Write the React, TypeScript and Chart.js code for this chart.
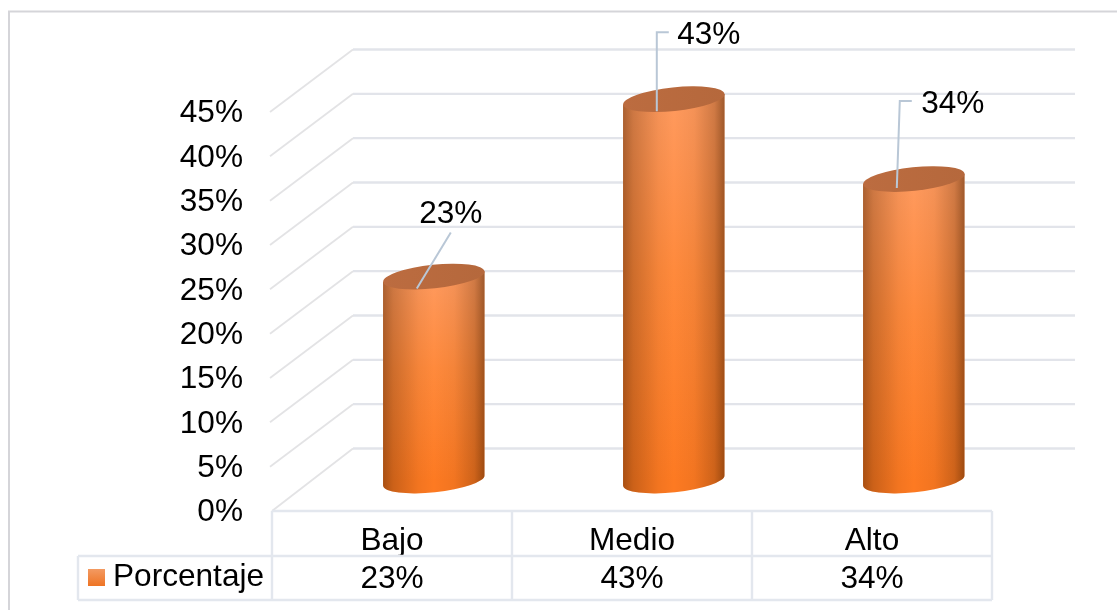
import { useEffect, useRef } from "react";
import { Chart, registerables } from "chart.js";

Chart.register(...registerables);

const categories = ["Bajo", "Medio", "Alto"];
const seriesName = "Porcentaje";
const values = [23, 43, 34];

const FAMILY = '"Liberation Sans", Arial, sans-serif';
const FONT_SIZE = 31.6;
const FONT = `${FONT_SIZE}px ${FAMILY}`;
const WALL = "#E2E4EA";
const DIAGONAL = "#E3E3E5";
const TABLE = "#E3E7EE";
const LEADER = "#B9C7D6";

// Depth of the 3D box, measured from the front plane of the value scale.
const BACK = { dx: 81, dy: -62.5 };
const MID = { dx: 41.8, dy: -30.5 };
const BACK_RIGHT = 1075;
const TILT = (-6 * Math.PI) / 180;
const RY = 11.8;

// Leader polylines and label anchors, relative to the centre of each cylinder top.
const leaders = [
  { path: [[-17, 12], [17, -44]], label: [17, -62] },
  { path: [[-17, 12], [-17, -67], [-5, -67]], label: [35, -63.5] },
  { path: [[-17, 9], [-14, -78], [-2, -78]], label: [39, -74.5] },
];

const box3d = {
  id: "box3d",
  beforeDatasetsDraw(chart: any) {
    const { ctx, scales, chartArea } = chart;
    const y = scales.y;
    ctx.save();
    // outer frame
    ctx.strokeStyle = "#D5D5D9";
    ctx.lineWidth = 2;
    ctx.beginPath();
    ctx.moveTo(9, 610);
    ctx.lineTo(9, 11.5);
    ctx.lineTo(1117, 11.5);
    ctx.stroke();
    // depth lines and back wall rules
    for (const t of y.ticks) {
      const py = y.getPixelForValue(t.value);
      const fx = t.value === 0 ? chartArea.left : chartArea.left - 2;
      ctx.strokeStyle = DIAGONAL;
      ctx.lineWidth = 1.8;
      ctx.beginPath();
      ctx.moveTo(fx, py);
      ctx.lineTo(chartArea.left + BACK.dx, py + BACK.dy);
      ctx.stroke();
      ctx.strokeStyle = WALL;
      ctx.lineWidth = 2.4;
      ctx.beginPath();
      ctx.moveTo(chartArea.left + BACK.dx, py + BACK.dy);
      ctx.lineTo(BACK_RIGHT, py + BACK.dy);
      ctx.stroke();
    }
    ctx.restore();
  },
  afterDatasetsDraw(chart: any) {
    const { ctx, scales } = chart;
    const bars = chart.getDatasetMeta(0).data;
    ctx.save();
    bars.forEach((bar: any) => {
      const cx = bar.x + MID.dx;
      const topY = bar.y + MID.dy;
      const baseY = bar.base + MID.dy;
      const half = bar.width / 2;
      const rx = half + 0.2;
      const sx = half;
      const sy = half * Math.tan(-TILT);

      // cylinder wall: vertical tint
      const body = new Path2D();
      body.moveTo(cx - sx, topY + sy);
      body.lineTo(cx - sx, baseY + sy);
      body.ellipse(cx, baseY, rx, RY, TILT, Math.PI, 0, true);
      body.lineTo(cx + sx, topY - sy);
      body.closePath();
      const tint = ctx.createLinearGradient(0, topY, 0, baseY);
      tint.addColorStop(0, "#FF9A5E");
      tint.addColorStop(0.45, "#FF8A3C");
      tint.addColorStop(1, "#FD7A22");
      ctx.fillStyle = tint;
      ctx.fill(body);

      // cylinder wall: shading across the width
      const shade = ctx.createLinearGradient(cx - half, 0, cx + half, 0);
      shade.addColorStop(0, "rgba(70,30,0,0.46)");
      shade.addColorStop(0.1, "rgba(70,30,0,0.27)");
      shade.addColorStop(0.35, "rgba(70,30,0,0.06)");
      shade.addColorStop(0.5, "rgba(70,30,0,0)");
      shade.addColorStop(0.7, "rgba(70,30,0,0.06)");
      shade.addColorStop(0.9, "rgba(70,30,0,0.26)");
      shade.addColorStop(1, "rgba(70,30,0,0.52)");
      ctx.fillStyle = shade;
      ctx.fill(body);

      // cylinder cap
      const cap = ctx.createLinearGradient(cx - half, 0, cx + half, 0);
      cap.addColorStop(0, "#BC6C40");
      cap.addColorStop(1, "#B5683C");
      ctx.fillStyle = cap;
      ctx.beginPath();
      ctx.ellipse(cx, topY, rx, RY, TILT, 0, Math.PI * 2);
      ctx.fill();
    });

    // leader lines and value labels
    ctx.font = FONT;
    ctx.textAlign = "center";
    ctx.textBaseline = "middle";
    bars.forEach((bar: any, i: number) => {
      const cx = bar.x + MID.dx;
      const topY = bar.y + MID.dy;
      const l = leaders[i];
      ctx.strokeStyle = LEADER;
      ctx.lineWidth = 2;
      ctx.beginPath();
      l.path.forEach(([dx, dy], k) => {
        if (k === 0) ctx.moveTo(cx + dx, topY + dy);
        else ctx.lineTo(cx + dx, topY + dy);
      });
      ctx.stroke();
      ctx.fillStyle = "#000";
      ctx.fillText(`${values[i]}%`, cx + l.label[0], topY + l.label[1]);
    });

    // data table under the category axis
    const x = scales.x;
    const left = x.left;
    const right = x.right;
    const step = (right - left) / categories.length;
    const rowTop = 511;
    const rowMid = 556;
    const rowEnd = 600;
    const legendLeft = 78;
    ctx.strokeStyle = TABLE;
    ctx.lineWidth = 2.4;
    ctx.beginPath();
    ctx.moveTo(left, rowTop);
    ctx.lineTo(right, rowTop);
    ctx.moveTo(legendLeft, rowMid);
    ctx.lineTo(right, rowMid);
    ctx.moveTo(legendLeft, rowEnd);
    ctx.lineTo(right, rowEnd);
    ctx.moveTo(legendLeft, rowMid);
    ctx.lineTo(legendLeft, rowEnd);
    for (let c = 0; c <= categories.length; c++) {
      ctx.moveTo(left + c * step, rowTop);
      ctx.lineTo(left + c * step, rowEnd);
    }
    ctx.stroke();

    ctx.fillStyle = "#000";
    ctx.textAlign = "center";
    values.forEach((v, i) => {
      ctx.fillText(`${v}%`, x.getPixelForValue(i), 579);
    });

    // legend key and series name
    const key = ctx.createLinearGradient(0, 569, 0, 586);
    key.addColorStop(0, "#F39A62");
    key.addColorStop(1, "#EE7424");
    ctx.fillStyle = key;
    ctx.fillRect(88, 569, 17, 17);
    ctx.fillStyle = "#000";
    ctx.textAlign = "left";
    ctx.fillText(seriesName, 113, 577);
    ctx.restore();
  },
};

export default function App() {
  const ref = useRef<HTMLCanvasElement>(null);
  useEffect(() => {
    const chart = new Chart(ref.current as HTMLCanvasElement, {
      type: "bar",
      data: {
        labels: categories,
        datasets: [
          {
            label: seriesName,
            data: values,
            backgroundColor: "transparent",
            categoryPercentage: 1,
            barPercentage: 101.5 / 240,
          },
        ],
      },
      plugins: [box3d],
      options: {
        responsive: false,
        animation: false,
        layout: { padding: { top: 112, right: 125, left: 0, bottom: 0 } },
        plugins: { legend: { display: false }, tooltip: { enabled: false } },
        scales: {
          x: {
            grid: { display: false },
            border: { display: false },
            ticks: {
              color: "#000",
              font: { family: FAMILY, size: FONT_SIZE },
              padding: 3,
              maxRotation: 0,
            },
            afterFit: (s: any) => {
              s.height = 99;
            },
          },
          y: {
            min: 0,
            max: 45,
            grid: { display: false },
            border: { display: false },
            ticks: {
              stepSize: 5,
              color: "#000",
              padding: 21,
              labelOffset: 1.5,
              font: { family: FAMILY, size: FONT_SIZE },
              callback: (v: any) => `${v}%`,
            },
            afterFit: (s: any) => {
              s.width = 272;
            },
          },
        },
      },
    } as any);
    return () => chart.destroy();
  }, []);
  return (
    <div style={{ position: "fixed", left: 0, top: 0, width: 1117, height: 610, background: "#fff" }}>
      <canvas ref={ref} width={1117} height={610} style={{ display: "block" }} />
    </div>
  );
}
